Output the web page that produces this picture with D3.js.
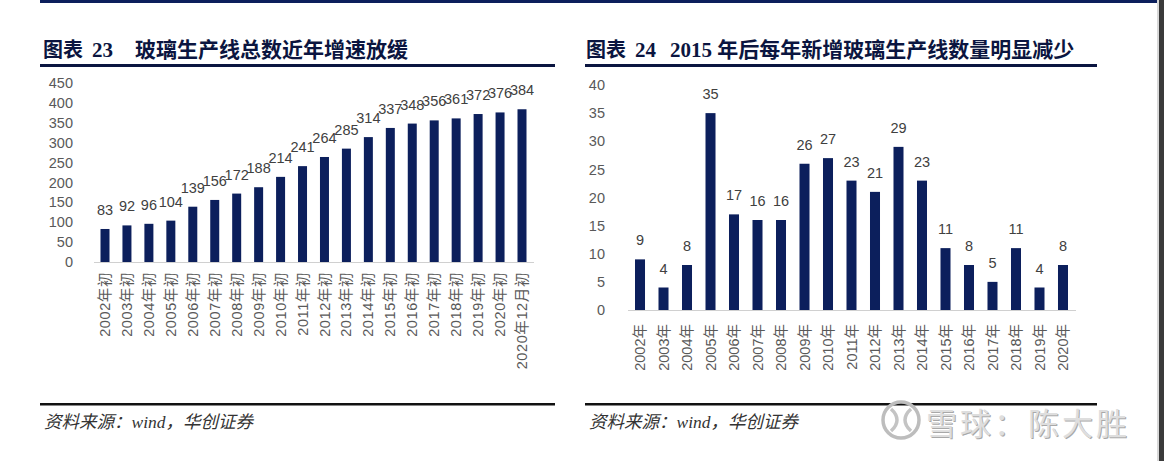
<!DOCTYPE html>
<html>
<head>
<meta charset="utf-8">
<script src="https://cdn.jsdelivr.net/npm/d3@7/dist/d3.min.js"></script>
<style>
  html, body { margin: 0; padding: 0; background: #fff; }
  svg { display: block; }
</style>
</head>
<body>
<svg id="chart" width="1164" height="461"></svg>
<script>
// ---------- data ----------
const leftTitleNo = ["图表", "23"];
const leftTitle = "玻璃生产线总数近年增速放缓";
const leftCategories = ["2002年初","2003年初","2004年初","2005年初","2006年初","2007年初","2008年初","2009年初","2010年初","2011年初","2012年初","2013年初","2014年初","2015年初","2016年初","2017年初","2018年初","2019年初","2020年初","2020年12月初"];
const leftValues = [83,92,96,104,139,156,172,188,214,241,264,285,314,337,348,356,361,372,376,384];
const leftTicks = [0,50,100,150,200,250,300,350,400,450];

const rightTitleNo = ["图表", "24"];
const rightTitle = "2015 年后每年新增玻璃生产线数量明显减少";
const rightCategories = ["2002年","2003年","2004年","2005年","2006年","2007年","2008年","2009年","2010年","2011年","2012年","2013年","2014年","2015年","2016年","2017年","2018年","2019年","2020年"];
const rightValues = [9,4,8,35,17,16,16,26,27,23,21,29,23,11,8,5,11,4,8];
const rightTicks = [0,5,10,15,20,25,30,35,40];

const sourceText = "资料来源：wind，华创证券";
const watermarkText = "雪球：陈大胜";

// ---------- styles ----------
const NAVY = "#0c1f5c";
const TITLE_COLOR = "#0b1540";
const TICK_COLOR = "#595959";
const LABEL_COLOR = "#404040";
const SANS = "Arial, 'Liberation Sans', 'Noto Sans CJK SC', sans-serif";
const TITLE_FONT = "'Liberation Serif', 'Noto Sans CJK SC', serif";

const svg = d3.select("#chart");

// page frame
svg.append("rect").attr("x", 40).attr("y", 0).attr("width", 1117).attr("height", 3).attr("fill", NAVY);
svg.append("rect").attr("x", 1159).attr("y", 0).attr("width", 5).attr("height", 461).attr("fill", "#3a3a3a");
svg.append("rect").attr("x", 1157).attr("y", 0).attr("width", 2).attr("height", 461).attr("fill", "#d8d8d8");

function panel(cfg) {
  const g = svg.append("g");
  // title
  const t = g.append("text")
    .attr("x", cfg.titleX).attr("y", 57)
    .attr("font-family", TITLE_FONT)
    .attr("font-weight", "bold")
    .attr("font-size", 20)
    .attr("fill", TITLE_COLOR);
  t.append("tspan").text(cfg.titleNo[0]);
  t.append("tspan").attr("dx", 9).attr("font-size", 21).text(cfg.titleNo[1]);
  t.append("tspan").attr("dx", cfg.titleGap).attr("font-size", 21).text(cfg.title);

  // rules
  g.append("rect").attr("x", cfg.ruleX0).attr("y", 64).attr("width", cfg.ruleX1 - cfg.ruleX0).attr("height", 3).attr("fill", TITLE_COLOR);
  g.append("rect").attr("x", cfg.ruleX0).attr("y", 403).attr("width", cfg.ruleX1 - cfg.ruleX0).attr("height", 2.5).attr("fill", "#111");

  // source
  g.append("text")
    .attr("x", cfg.ruleX0 + 4).attr("y", 428)
    .attr("font-family", "'Liberation Serif', 'Noto Sans CJK SC', serif")
    .attr("font-style", "italic")
    .attr("font-size", 17.5)
    .attr("fill", "#333")
    .text(sourceText);

  // scales
  const x = d3.scaleBand()
    .domain(cfg.categories)
    .range(cfg.xRange)
    .paddingInner(cfg.padInner)
    .paddingOuter(0);
  const y = d3.scaleLinear()
    .domain([0, d3.max(cfg.ticks)])
    .range(cfg.yRange);

  // y axis labels
  const yAxis = d3.axisLeft(y).tickValues(cfg.ticks).tickSize(0).tickPadding(0);
  const ya = g.append("g").attr("transform", `translate(${cfg.yLabelX},0)`).call(yAxis);
  ya.select(".domain").remove();
  ya.selectAll("text")
    .attr("font-family", SANS)
    .attr("font-size", 14.5)
    .attr("fill", TICK_COLOR);

  // baseline
  g.append("line")
    .attr("x1", cfg.baseX0).attr("x2", cfg.baseX1)
    .attr("y1", y(0) + 0.5).attr("y2", y(0) + 0.5)
    .attr("stroke", "#d0d0d0").attr("stroke-width", 1);

  // bars
  const data = cfg.categories.map((c, i) => ({ c, v: cfg.values[i] }));
  g.selectAll("rect.bar").data(data).join("rect")
    .attr("class", "bar")
    .attr("x", d => x(d.c))
    .attr("width", x.bandwidth())
    .attr("y", d => y(d.v))
    .attr("height", d => y(0) - y(d.v))
    .attr("fill", NAVY);

  // value labels
  g.selectAll("text.val").data(data).join("text")
    .attr("class", "val")
    .attr("x", d => x(d.c) + x.bandwidth() / 2)
    .attr("y", d => y(d.v) - 14)
    .attr("text-anchor", "middle")
    .attr("font-family", SANS)
    .attr("font-size", 14.5)
    .attr("fill", LABEL_COLOR)
    .text(d => d.v);

  // x labels (rotated)
  const xAxis = d3.axisBottom(x).tickSize(0).tickPadding(0);
  const xa = g.append("g").attr("transform", `translate(0,${cfg.xLabelTop})`).call(xAxis);
  xa.select(".domain").remove();
  xa.selectAll("text")
    .attr("transform", "rotate(-90)")
    .attr("text-anchor", "end")
    .attr("x", 0).attr("y", 0)
    .attr("dy", "0.35em")
    .attr("font-family", SANS)
    .attr("font-size", cfg.xFont)
    .attr("letter-spacing", cfg.xSpacing)
    .attr("fill", TICK_COLOR);
}

panel({
  titleNo: leftTitleNo, title: leftTitle, titleX: 43, titleGap: 22,
  ruleX0: 40, ruleX1: 555,
  categories: leftCategories, values: leftValues, ticks: leftTicks,
  xRange: [100.5, 526.5], padInner: 0.59,
  yRange: [262, 83], yLabelX: 73,
  baseX0: 94, baseX1: 534,
  xLabelTop: 272, xFont: 14.5, xSpacing: 0.6
});

panel({
  titleNo: rightTitleNo, title: rightTitle, titleX: 586, titleGap: 14,
  ruleX0: 585, ruleX1: 1097,
  categories: rightCategories, values: rightValues, ticks: rightTicks,
  xRange: [635, 1068], padInner: 0.574,
  yRange: [310, 85], yLabelX: 605,
  baseX0: 628, baseX1: 1076,
  xLabelTop: 324, xFont: 14.5, xSpacing: 0
});

// watermark
const wm = svg.append("g");
const lg = wm.append("g").attr("transform", "translate(901,420)");
lg.append("circle").attr("r", 18).attr("fill", "none").attr("stroke", "#bdbdbd").attr("stroke-width", 3.5);
lg.append("path").attr("d", "M-10,-11 C-2,-4 -2,4 -10,11").attr("fill", "none").attr("stroke", "#c4c4c4").attr("stroke-width", 3.5);
lg.append("path").attr("d", "M10,-11 C2,-4 2,4 10,11").attr("fill", "none").attr("stroke", "#c4c4c4").attr("stroke-width", 3.5);
wm.append("text")
  .attr("x", 1131).attr("y", 436)
  .attr("text-anchor", "end")
  .attr("font-family", "'Noto Sans CJK SC', sans-serif")
  .attr("font-size", 31)
  .attr("letter-spacing", 3)
  .attr("fill", "#a8a8a8")
  .text(watermarkText);
wm.append("text")
  .attr("x", 1130).attr("y", 435)
  .attr("text-anchor", "end")
  .attr("font-family", "'Noto Sans CJK SC', sans-serif")
  .attr("font-size", 31)
  .attr("letter-spacing", 3)
  .attr("fill", "#dedede")
  .text(watermarkText);
</script>
</body>
</html>
